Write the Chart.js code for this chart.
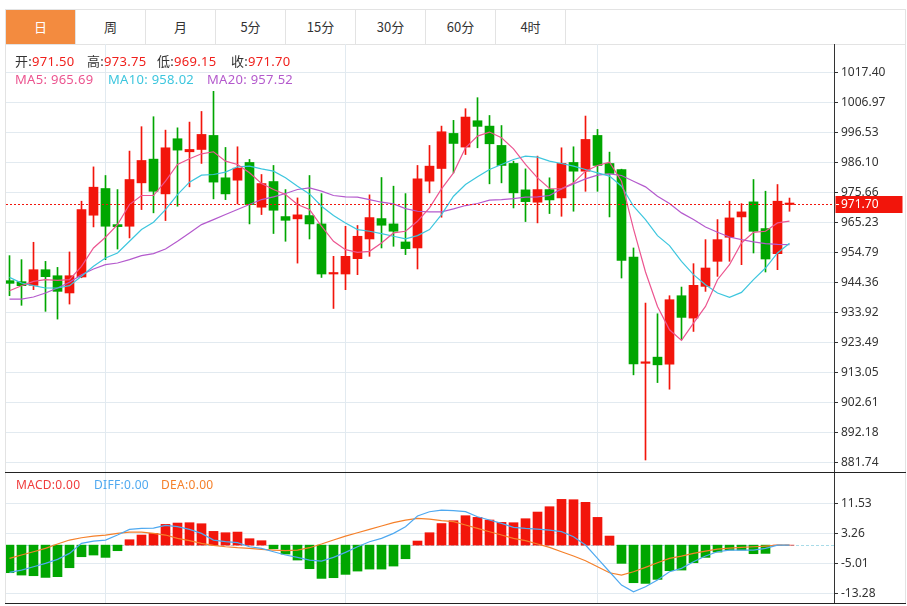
<!DOCTYPE html>
<html lang="zh-CN">
<head>
<meta charset="utf-8">
<title>日K</title>
<script src="https://cdn.jsdelivr.net/npm/chart.js@4.4.1/dist/chart.umd.min.js"></script>
<style>
	html, body { margin: 0; padding: 0; background: #fff; }
	body { position: relative; width: 907px; height: 606px; overflow: hidden; font-family: "Noto Sans", "Noto Sans CJK SC", sans-serif; color: #333; }
	#tabs { position: absolute; left: 5px; top: 9px; width: 899px; height: 34px; border: 1px solid #e3e3e3; display: flex; }
	.tab { box-sizing: border-box; width: 70px; height: 34px; line-height: 34px; text-align: center; font-family: "Noto Sans CJK SC", sans-serif; font-size: 13px; color: #333; border-right: 1px solid #e3e3e3; }
	.tab.active { background: #f38b3f; color: #fff; }
	#frame { position: absolute; left: 5px; top: 44px; width: 899px; height: 560px; border-left: 1px solid #e3e3e3; border-right: 1px solid #e3e3e3; }
	canvas { position: absolute; left: 6px; }
	#mainChart { top: 44px; }
	#macdChart { top: 473px; }
	.rule { position: absolute; left: 5px; width: 901px; height: 1px; background: #222; }
	.info { position: absolute; left: 0; width: 400px; height: 16px; font-size: 12px; line-height: 16px; white-space: nowrap; letter-spacing: 0.3px; }
	.info.big { font-size: 13px; }
	.info span { position: absolute; top: 0; }
	.info b { font-weight: normal; }
	.up { color: #f0201c; }
</style>
</head>
<body>
<div id="tabs">
	<div class="tab active">日</div>
	<div class="tab">周</div>
	<div class="tab">月</div>
	<div class="tab">5分</div>
	<div class="tab">15分</div>
	<div class="tab">30分</div>
	<div class="tab">60分</div>
	<div class="tab">4时</div>
</div>
<div id="frame"></div>
<canvas id="mainChart" width="899" height="429"></canvas>
<canvas id="macdChart" width="899" height="130"></canvas>
<div class="rule" style="top:472px"></div>
<div class="rule" style="top:603px"></div>

<div class="info big" style="top:53px">
	<span style="left:15px">开:<b class="up" id="qOpen"></b></span>
	<span style="left:87px">高:<b class="up" id="qHigh"></b></span>
	<span style="left:157px">低:<b class="up" id="qLow"></b></span>
	<span style="left:231px">收:<b class="up" id="qClose"></b></span>
</div>
<div class="info big" style="top:71px">
	<span style="left:15px" id="ma5Text"></span>
	<span style="left:108px" id="ma10Text"></span>
	<span style="left:207px" id="ma20Text"></span>
</div>
<div class="info" style="top:477px">
	<span style="left:16px" id="macdText"></span>
	<span style="left:94px" id="diffText"></span>
	<span style="left:161px" id="deaText"></span>
</div>

<script>
// tick labels
const priceTicks = [1017.40, 1006.97, 996.53, 986.10, 975.66, 965.23, 954.79, 944.36, 933.92, 923.49, 913.05, 902.61, 892.18, 881.74];
const macdTicks = [11.53, 3.26, -5.01, -13.28];
// candle indexes where the vertical grid lines sit
const monthStarts = [8, 28, 49];

const opens = [
	944.98, 944.63, 943.35, 948.80, 946.70, 940.70, 946.26, 967.77, 977.07, 964.50,
	963.93, 979.04, 987.30, 975.20, 994.40, 989.86, 990.67, 995.55, 980.80, 979.97,
	986.14, 970.56, 979.50, 967.30, 966.50, 967.65, 964.74, 947.30, 947.30, 952.65,
	959.50, 966.60, 964.74, 958.46, 956.37, 979.63, 984.04, 996.25, 991.50, 1000.67,
	998.80, 992.07, 985.80, 976.60, 972.30, 976.70, 973.80, 986.14, 983.10, 995.55,
	985.78, 983.69, 953.23, 916.20, 918.35, 915.90, 939.74, 931.95, 943.00, 951.72,
	960.09, 967.18, 972.42, 963.12, 954.39, 971.50,
];
const highs = [
	953.70, 952.30, 958.35, 951.70, 949.60, 954.98, 972.65, 984.60, 981.60, 976.70,
	990.10, 998.60, 1002.07, 997.40, 998.20, 1000.20, 1003.90, 1010.90, 991.37, 991.60,
	987.20, 981.95, 985.10, 976.70, 973.80, 981.60, 975.30, 953.46, 963.90, 964.20,
	974.86, 980.90, 977.88, 975.30, 985.10, 992.07, 998.80, 1000.80, 1004.86, 1008.70,
	1002.50, 999.00, 986.60, 983.90, 988.35, 980.80, 991.25, 991.60, 1002.30, 997.64,
	989.74, 983.80, 956.37, 937.18, 933.46, 939.74, 942.76, 950.90, 959.27, 966.25,
	972.65, 971.80, 980.20, 976.13, 978.46, 973.75,
];
const lows = [
	939.74, 936.40, 941.84, 934.30, 931.60, 936.84, 946.00, 963.70, 952.30, 956.00,
	959.86, 969.74, 968.60, 965.90, 970.90, 977.65, 985.80, 973.46, 973.20, 971.70,
	964.74, 968.00, 961.40, 958.70, 951.10, 959.50, 946.10, 935.30, 941.84, 947.07,
	953.46, 956.37, 956.95, 954.05, 949.05, 975.56, 967.07, 982.50, 988.90, 991.25,
	978.70, 979.04, 970.30, 965.56, 965.10, 968.35, 967.40, 969.16, 976.10, 976.10,
	967.18, 945.90, 912.19, 882.54, 909.50, 907.19, 924.40, 927.30, 941.25, 946.48,
	951.72, 950.55, 954.62, 948.00, 948.80, 969.15,
];
const closes = [
	944.05, 943.23, 948.80, 946.37, 941.26, 946.70, 969.74, 977.53, 963.93, 963.80,
	980.20, 986.83, 976.10, 991.25, 990.44, 990.67, 995.90, 979.30, 975.20, 984.16,
	971.50, 978.80, 969.50, 966.00, 967.90, 964.74, 947.30, 947.77, 953.46, 960.44,
	966.95, 964.28, 962.19, 956.14, 980.44, 984.86, 996.83, 992.76, 1001.95, 998.70,
	992.65, 985.10, 975.56, 972.50, 976.70, 973.10, 985.80, 983.10, 994.16, 985.10,
	982.30, 952.07, 916.02, 916.30, 915.67, 938.35, 932.19, 943.35, 949.39, 959.27,
	966.83, 968.93, 962.18, 952.53, 972.65, 971.70,
];

const ma5 = [
	941.49, 943.23, 944.74, 945.32, 945.09, 945.32, 949.98, 956.37, 960.09, 964.51,
	971.49, 974.63, 974.63, 979.63, 985.44, 987.42, 989.16, 989.86, 986.60, 985.44,
	982.53, 978.81, 976.72, 974.97, 971.49, 969.74, 963.93, 958.70, 955.79, 954.86,
	955.21, 958.12, 961.60, 962.19, 965.67, 970.33, 976.95, 982.53, 991.25, 995.32,
	996.72, 994.74, 990.90, 985.44, 980.79, 977.07, 976.95, 979.04, 983.11, 985.10,
	986.25, 979.60, 963.00, 948.00, 936.02, 927.88, 924.16, 930.21, 936.02, 945.32,
	950.55, 958.10, 961.83, 962.18, 965.09, 965.69,
];
const ma10 = [
	946.14, 944.17, 943.23, 942.42, 942.42, 943.23, 946.49, 949.98, 952.88, 954.63,
	958.70, 962.77, 965.33, 969.74, 974.97, 979.28, 981.72, 981.95, 982.77, 984.63,
	984.86, 983.93, 983.11, 980.79, 977.88, 975.20, 970.90, 967.65, 965.09, 962.77,
	962.19, 961.37, 960.44, 959.51, 960.67, 962.77, 967.99, 974.39, 978.46, 981.14,
	983.70, 985.44, 987.18, 988.35, 988.00, 986.60, 985.79, 984.86, 983.70, 982.53,
	981.37, 977.88, 970.90, 966.25, 960.67, 957.18, 951.72, 947.07, 943.58, 940.67,
	939.16, 940.90, 945.32, 949.39, 954.62, 958.02,
];
const ma20 = [
	938.58, 938.58, 939.28, 940.68, 942.42, 944.40, 947.07, 949.05, 950.56, 951.14,
	952.30, 953.70, 954.40, 956.02, 958.70, 961.60, 964.51, 966.25, 968.00, 969.74,
	971.49, 973.23, 974.16, 975.32, 976.72, 977.30, 976.14, 974.63, 974.16, 974.04,
	973.23, 972.30, 971.72, 970.09, 969.16, 968.93, 968.93, 969.98, 971.14, 971.84,
	973.00, 973.23, 973.58, 974.04, 974.16, 974.63, 976.95, 978.70, 980.44, 981.72,
	982.18, 981.60, 979.62, 977.65, 974.39, 971.83, 968.58, 966.25, 963.69, 961.83,
	960.20, 959.27, 958.46, 957.88, 957.65, 957.52,
];

const macd = [
	-7.60, -8.25, -8.43, -8.90, -8.70, -6.23, -3.20, -2.73, -3.38, -1.54,
	1.49, 2.78, 3.24, 5.72, 6.09, 6.18, 5.90, 3.79, 3.42, 3.60,
	1.77, 1.22, -0.99, -2.46, -4.11, -6.50, -9.17, -8.98, -8.06, -7.15,
	-6.60, -6.60, -5.77, -3.75, 1.13, 3.42, 5.95, 6.73, 8.11, 7.65,
	6.92, 6.27, 6.18, 7.28, 9.12, 10.59, 12.61, 12.52, 11.79, 7.65,
	2.50, -5.03, -10.36, -10.55, -9.44, -7.05, -6.87, -4.85, -3.38, -1.91,
	-1.36, -1.36, -2.37, -2.28, 0, 0,
];
const diff = [
	-7.51, -6.87, -5.95, -5.03, -3.93, -2.28, 0.48, 1.12, 1.40, 2.78,
	4.34, 4.62, 4.71, 5.45, 5.08, 4.34, 3.24, 1.40, 0.94, 0.67,
	-0.44, -0.90, -1.82, -2.73, -3.38, -4.11, -4.39, -3.38, -2.00, -0.44,
	0.94, 1.86, 3.24, 5.08, 8.02, 9.21, 9.67, 9.49, 9.21, 7.83,
	6.92, 6.00, 4.89, 4.62, 4.43, 4.16, 3.70, 2.32, 0.02, -3.65,
	-7.33, -11.00, -12.84, -11.47, -9.63, -7.33, -6.41, -4.57, -3.01, -1.82,
	-1.36, -1.36, -1.36, -0.90, 0, 0,
];
const dea = [
	-3.65, -2.73, -1.82, -0.90, 0.30, 1.40, 2.04, 2.50, 2.78, 3.24,
	3.61, 3.61, 3.24, 2.78, 1.86, 1.22, 0.48, -0.07, -0.44, -0.71,
	-0.90, -1.17, -1.36, -1.54, -1.36, -0.71, 0.30, 1.40, 2.50, 3.42,
	4.34, 5.26, 6.18, 6.91, 7.37, 7.19, 6.73, 6.46, 5.54, 4.62,
	3.70, 2.78, 1.86, 1.22, 0.30, -0.62, -1.82, -3.01, -4.30, -5.95,
	-7.61, -8.25, -7.33, -6.13, -4.85, -3.65, -3.01, -2.28, -1.63, -1.08,
	-0.80, -0.62, -0.44, -0.25, 0, 0,
];

const upColor = '#f2150b';
const downColor = '#00a600';
const gridColor = '#e2eaf0';
const ma5Color = '#ec5590';
const ma10Color = '#3dc6de';
const ma20Color = '#b45acd';
const diffColor = '#4fa9f0';
const deaColor = '#f5802a';

const slotWidth = 12;
const axisWidth = 71;
const plotWidth = 828;
const xMin = -0.2917;
const xMax = xMin + plotWidth / slotWidth;

const last = closes.length - 1;
const candleColors = closes.map((c, i) => (c >= opens[i] ? upColor : downColor));
const macdColors = macd.map((v) => (v >= 0 ? upColor : downColor));

function fmt(value) {
	return Number(value).toFixed(2);
}

function points(values) {
	return values.map((y, x) => ({ x, y }));
}

function xAxis() {
	return {
		type: 'linear',
		min: xMin,
		max: xMax,
		offset: false,
		bounds: 'data',
		afterBuildTicks: (axis) => {
			axis.ticks = monthStarts.map((value) => ({ value }));
		},
		afterFit: (axis) => {
			axis.height = 0;
			axis.paddingLeft = 0;
			axis.paddingRight = 0;
		},
		ticks: { display: false },
		grid: { color: gridColor, drawTicks: false, offset: false },
		border: { display: false },
	};
}

function rightAxis(tickValues, min, max) {
	return {
		position: 'right',
		min,
		max,
		bounds: 'data',
		afterBuildTicks: (axis) => {
			axis.ticks = tickValues.map((value) => ({ value }));
		},
		afterFit: (axis) => {
			axis.width = axisWidth;
			axis.paddingTop = 0;
			axis.paddingBottom = 0;
		},
		ticks: {
			autoSkip: false,
			padding: 3,
			color: '#333',
			font: { family: 'Noto Sans', size: 12 },
			callback: (value) => fmt(value),
		},
		grid: { color: gridColor, tickColor: '#333', tickLength: 4 },
		border: { display: true, color: '#333' },
	};
}

function lineSet(values, color) {
	return {
		type: 'line',
		data: points(values),
		borderColor: color,
		borderWidth: 1.2,
		pointRadius: 0,
		tension: 0,
		order: 0,
	};
}

const lastPricePlugin = {
	id: 'lastPrice',
	afterDatasetsDraw(chart) {
		const { ctx, chartArea, scales } = chart;
		const py = Math.round(scales.y.getPixelForValue(closes[last])) + 0.5;
		ctx.save();
		ctx.strokeStyle = upColor;
		ctx.lineWidth = 1;
		ctx.setLineDash([2, 2]);
		ctx.beginPath();
		ctx.moveTo(chartArea.left, py);
		ctx.lineTo(chartArea.right, py);
		ctx.stroke();
		ctx.restore();
	},
	afterDraw(chart) {
		const { ctx, chartArea, scales } = chart;
		const py = Math.round(scales.y.getPixelForValue(closes[last]));
		ctx.save();
		ctx.fillStyle = upColor;
		ctx.fillRect(chartArea.right + 1.5, py - 8, 67, 17);
		ctx.strokeStyle = '#fff';
		ctx.lineWidth = 1;
		ctx.beginPath();
		ctx.moveTo(chartArea.right + 2, py + 0.5);
		ctx.lineTo(chartArea.right + 5, py + 0.5);
		ctx.stroke();
		ctx.fillStyle = '#fff';
		ctx.font = '12px "Noto Sans"';
		ctx.textBaseline = 'middle';
		ctx.fillText(fmt(closes[last]), chartArea.right + 7, py + 0.5);
		ctx.restore();
	},
};

const zeroLinePlugin = {
	id: 'zeroLine',
	beforeDatasetsDraw(chart) {
		const { ctx, chartArea, scales } = chart;
		const py = Math.round(scales.y.getPixelForValue(0)) + 0.5;
		ctx.save();
		ctx.strokeStyle = '#a8dbe8';
		ctx.lineWidth = 1;
		ctx.setLineDash([3, 2]);
		ctx.beginPath();
		ctx.moveTo(chartArea.left, py);
		ctx.lineTo(chartArea.right, py);
		ctx.stroke();
		ctx.restore();
	},
};

Chart.defaults.font.family = 'Noto Sans';

new Chart(document.querySelector('#mainChart'), {
	type: 'bar',
	data: {
		datasets: [
			lineSet(ma5, ma5Color),
			lineSet(ma10, ma10Color),
			lineSet(ma20, ma20Color),
			{
				type: 'bar',
				data: opens.map((o, x) => ({ x, y: [o, closes[x]] })),
				backgroundColor: candleColors,
				barThickness: 9,
				minBarLength: 1.5,
				grouped: false,
				order: 1,
			},
			{
				type: 'bar',
				data: lows.map((l, x) => ({ x, y: [l, highs[x]] })),
				backgroundColor: candleColors,
				barThickness: 1,
				grouped: false,
				order: 2,
			},
		],
	},
	options: {
		responsive: false,
		animation: false,
		events: [],
		layout: { padding: 0 },
		plugins: { legend: { display: false }, tooltip: { enabled: false } },
		scales: {
			x: xAxis(),
			y: rightAxis(priceTicks, 878.01, 1027.39),
		},
	},
	plugins: [lastPricePlugin],
});

new Chart(document.querySelector('#macdChart'), {
	type: 'bar',
	data: {
		datasets: [
			lineSet(diff, diffColor),
			lineSet(dea, deaColor),
			{
				type: 'bar',
				data: points(macd),
				backgroundColor: macdColors,
				barThickness: 9,
				grouped: false,
				order: 1,
			},
		],
	},
	options: {
		responsive: false,
		animation: false,
		events: [],
		layout: { padding: 0 },
		plugins: { legend: { display: false }, tooltip: { enabled: false } },
		scales: {
			x: xAxis(),
			y: rightAxis(macdTicks, -15.95, 19.88),
		},
	},
	plugins: [zeroLinePlugin],
});

document.querySelector('#qOpen').textContent = fmt(opens[last]);
document.querySelector('#qHigh').textContent = fmt(highs[last]);
document.querySelector('#qLow').textContent = fmt(lows[last]);
document.querySelector('#qClose').textContent = fmt(closes[last]);

function setInfo(id, text, color) {
	const el = document.querySelector(id);
	el.textContent = text;
	el.style.color = color;
}
setInfo('#ma5Text', `MA5: ${fmt(ma5[last])}`, ma5Color);
setInfo('#ma10Text', `MA10: ${fmt(ma10[last])}`, ma10Color);
setInfo('#ma20Text', `MA20: ${fmt(ma20[last])}`, ma20Color);
setInfo('#macdText', `MACD:${fmt(macd[last])}`, '#f03c3c');
setInfo('#diffText', `DIFF:${fmt(diff[last])}`, diffColor);
setInfo('#deaText', `DEA:${fmt(dea[last])}`, deaColor);
</script>
</body>
</html>
